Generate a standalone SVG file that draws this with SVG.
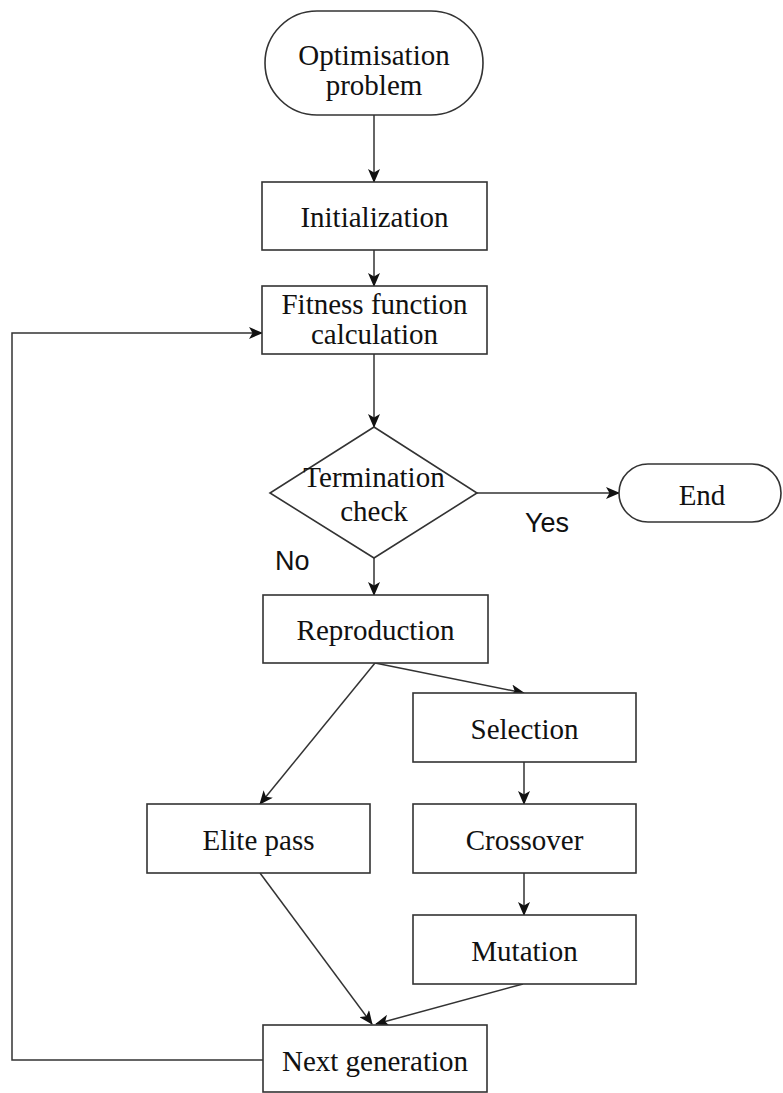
<svg xmlns="http://www.w3.org/2000/svg" width="783" height="1093" viewBox="0 0 783 1093">
<style>
.box{fill:#fff;stroke:#333;stroke-width:1.6}
.lbl{font-family:"Liberation Serif","Times New Roman",serif;font-size:29px;fill:#111;text-anchor:middle}
.sans{font-family:"Liberation Sans",Arial,sans-serif;font-size:27px;fill:#111}
.con{fill:none;stroke:#333;stroke-width:1.5}
</style>
<defs>
<marker id="arr" markerUnits="userSpaceOnUse" markerWidth="14" markerHeight="12" refX="13" refY="6" orient="auto">
<path d="M0,0 L14,6 L0,12 L3.5,6 z" fill="#111"/>
</marker>
</defs>
<rect width="783" height="1093" fill="#fff"/>
<g id="connectors">
<line class="con" x1="374" y1="115" x2="374" y2="182" marker-end="url(#arr)"/>
<line class="con" x1="374" y1="250" x2="374" y2="286" marker-end="url(#arr)"/>
<line class="con" x1="374" y1="354" x2="374" y2="427" marker-end="url(#arr)"/>
<line class="con" x1="477" y1="493" x2="619" y2="493" marker-end="url(#arr)"/>
<line class="con" x1="374" y1="558" x2="374" y2="595" marker-end="url(#arr)"/>
<line class="con" x1="375" y1="663" x2="260" y2="804" marker-end="url(#arr)"/>
<line class="con" x1="375" y1="663" x2="524" y2="693" marker-end="url(#arr)"/>
<line class="con" x1="524" y1="762" x2="524" y2="804" marker-end="url(#arr)"/>
<line class="con" x1="524" y1="873" x2="524" y2="915" marker-end="url(#arr)"/>
<line class="con" x1="260" y1="873" x2="372" y2="1024" marker-end="url(#arr)"/>
<line class="con" x1="523" y1="984" x2="376" y2="1024" marker-end="url(#arr)"/>
<polyline class="con" points="263,1060 12,1060 12,333 262,333" marker-end="url(#arr)"/>
<text class="sans" x="525" y="532">Yes</text>
<text class="sans" x="275" y="570">No</text>
</g>
<g id="optimisation">
<rect class="box" x="265" y="11" width="218" height="104" rx="52" ry="52"/>
<text class="lbl" x="374" y="65">Optimisation</text>
<text class="lbl" x="374" y="95">problem</text>
</g>
<g id="initialization">
<rect class="box" x="262" y="182" width="225" height="68"/>
<text class="lbl" x="374.5" y="227">Initialization</text>
</g>
<g id="fitness">
<rect class="box" x="262" y="286" width="225" height="68"/>
<text class="lbl" x="374.5" y="314">Fitness function</text>
<text class="lbl" x="374.5" y="344">calculation</text>
</g>
<g id="termination">
<polygon class="box" points="374,427 477,493 374,558 270,493"/>
<text class="lbl" x="374" y="487">Termination</text>
<text class="lbl" x="374" y="521">check</text>
</g>
<g id="end">
<rect class="box" x="619" y="464" width="162" height="58" rx="29" ry="29"/>
<text class="lbl" x="702" y="505">End</text>
</g>
<g id="reproduction">
<rect class="box" x="263" y="595" width="225" height="68"/>
<text class="lbl" x="375.5" y="640">Reproduction</text>
</g>
<g id="selection">
<rect class="box" x="413" y="693" width="223" height="69"/>
<text class="lbl" x="524.5" y="739">Selection</text>
</g>
<g id="elite">
<rect class="box" x="147" y="804" width="223" height="69"/>
<text class="lbl" x="258.5" y="850">Elite pass</text>
</g>
<g id="crossover">
<rect class="box" x="413" y="804" width="223" height="69"/>
<text class="lbl" x="524.5" y="850">Crossover</text>
</g>
<g id="mutation">
<rect class="box" x="413" y="915" width="223" height="69"/>
<text class="lbl" x="524.5" y="961">Mutation</text>
</g>
<g id="nextgen">
<rect class="box" x="263" y="1025" width="224" height="67"/>
<text class="lbl" x="375" y="1071">Next generation</text>
</g>
</svg>
